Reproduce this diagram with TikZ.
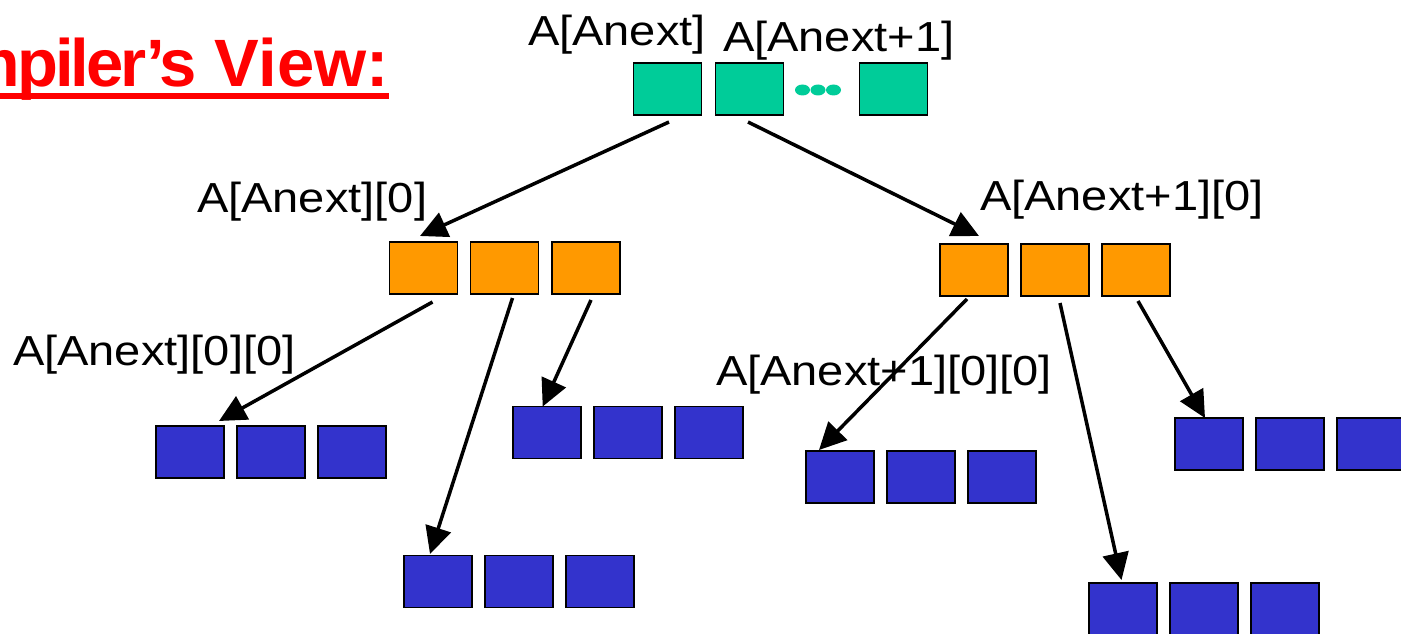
\documentclass[tikz,border=0pt]{standalone}
\usepackage{fontspec}
\setmainfont{Liberation Sans}
\newfontfamily\labfont{Liberation Sans}[FakeStretch=1.12]
\newfontfamily\titletight{Liberation Sans Bold}[LetterSpace=-4.5]
\usetikzlibrary{arrows.meta}
\definecolor{tealc}{RGB}{0,204,153}
\definecolor{orangec}{RGB}{255,153,0}
\definecolor{bluec}{RGB}{51,51,204}
\definecolor{titlered}{RGB}{255,0,0}
\begin{document}
\begin{tikzpicture}[x=1pt,y=-1pt,
  cell/.style={draw=black, line width=1.5pt, minimum width=68pt, minimum height=52pt, inner sep=0pt, outer sep=0pt},
  tcell/.style={cell, fill=tealc},
  ocell/.style={cell, fill=orangec},
  bcell/.style={cell, fill=bluec},
  lbl/.style={anchor=base west, inner sep=0pt, outer sep=0pt, font=\labfont\fontsize{42}{46}\selectfont},
  arr/.style={line width=3.5pt, -{Triangle[length=27pt,width=26pt]}}
]
\useasboundingbox (0,0) rectangle (1401,634);
\clip (0,0) rectangle (1401,634);

% title
\node[anchor=base east, inner sep=0pt, text=titlered, font=\bfseries\fontsize{67}{70}\selectfont] (title) at (389,87) {{\titletight\fontsize{67}{70}\selectfont Compiler’s} View:};
\draw[titlered, line width=6pt] ([yshift=-9pt]title.base west) -- ([yshift=-9pt]title.base east);

% top row
\node[tcell] (t1) at (667.5,89) {};
\node[tcell] (t2) at (749.5,89) {};
\node[tcell] (t3) at (893.5,89) {};
\fill[tealc] (802.5,90) ellipse (7.5pt and 5.5pt);
\fill[tealc] (818,90) ellipse (7.5pt and 5.5pt);
\fill[tealc] (833.5,90) ellipse (7.5pt and 5.5pt);

% second level
\node[ocell] (o1) at (423.5,268) {};
\node[ocell] (o2) at (504.5,268) {};
\node[ocell] (o3) at (586,268) {};
\node[ocell] (p1) at (974,270) {};
\node[ocell] (p2) at (1055,270) {};
\node[ocell] (p3) at (1136,270) {};

% third level
\node[bcell] (a1) at (190,452) {};
\node[bcell] (a2) at (271,452) {};
\node[bcell] (a3) at (352,452) {};
\node[bcell] (b1) at (547,432.5) {};
\node[bcell] (b2) at (628,432.5) {};
\node[bcell] (b3) at (709,432.5) {};
\node[bcell] (c1) at (438,581.5) {};
\node[bcell] (c2) at (519,581.5) {};
\node[bcell] (c3) at (600,581.5) {};
\node[bcell] (d1) at (840,477) {};
\node[bcell] (d2) at (921,477) {};
\node[bcell] (d3) at (1002,477) {};
\node[bcell] (e1) at (1209,444) {};
\node[bcell] (e2) at (1290,444) {};
\node[bcell] (e3) at (1371,444) {};
\node[bcell] (f1) at (1123,609) {};
\node[bcell] (f2) at (1204,609) {};
\node[bcell] (f3) at (1285,609) {};

% labels
\node[lbl] (l1) at (528,46) {A[Anext]};
\node[lbl] (l2) at (723,52) {A[Anext+1]};
\node[lbl] (l3) at (197,212) {A[Anext][0]};
\node[lbl] (l4) at (980,210) {A[Anext+1][0]};
\node[lbl] (l5) at (13,365) {A[Anext][0][0]};
\node[lbl] (l6) at (716,385) {A[Anext+1][0][0]};

% arrows
\draw[arr] ([xshift=1.5pt,yshift=-7pt]t1.south) -- ([xshift=-3.5pt,yshift=6pt]o1.north);
\draw[arr] ([xshift=-1.5pt,yshift=-7pt]t2.south) -- ([xshift=5pt,yshift=8pt]p1.north);
\draw[arr] ([xshift=9pt,yshift=-8pt]o1.south) -- ([xshift=29pt,yshift=5pt]a1.north);
\draw[arr] ([xshift=8pt,yshift=-4pt]o2.south) -- ([xshift=-8pt,yshift=1.5pt]c1.north);
\draw[arr] ([xshift=5pt,yshift=-6pt]o3.south) -- ([xshift=-4.3pt]b1.north);
\draw[arr] ([xshift=-7pt,yshift=-3pt]p1.south) -- ([xshift=-21pt,yshift=1pt]d1.north);
\draw[arr] ([xshift=5pt,yshift=-7pt]p2.south) -- ([xshift=-1.5pt,yshift=3pt]f1.north);
\draw[arr] ([xshift=2pt,yshift=-5pt]p3.south) -- ([xshift=-4pt]e1.north);
\end{tikzpicture}
\end{document}
